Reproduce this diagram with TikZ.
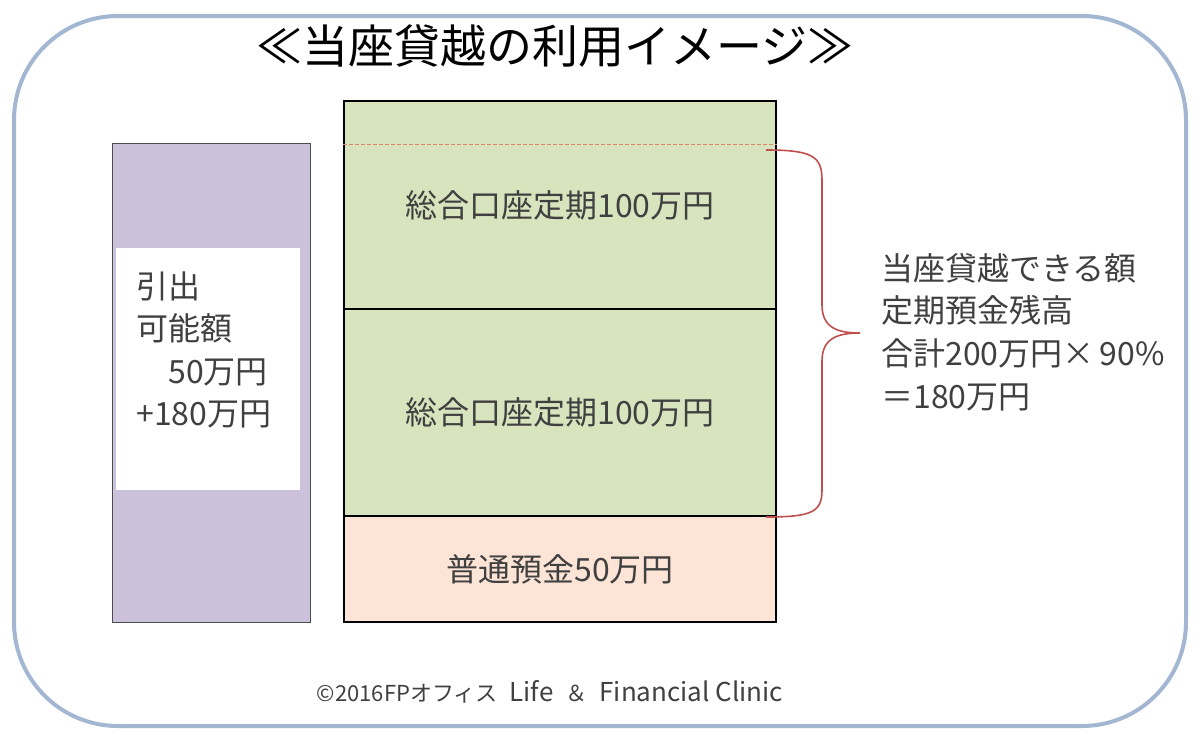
\documentclass[tikz,border=0pt]{standalone}
\usepackage{fontspec}
\setmainfont{Noto Sans CJK JP}
\usetikzlibrary{calc}
\definecolor{frameBlue}{HTML}{A3B7D3}
\definecolor{limitPurple}{HTML}{CCC1DA}
\definecolor{depoGreen}{HTML}{D8E4BD}
\definecolor{depoPink}{HTML}{FCE4D6}
\definecolor{braceRed}{HTML}{C0504D}
\definecolor{cutLine}{HTML}{D9876E}

\begin{document}
\begin{tikzpicture}
[x=0.5pt, y=-0.5pt,
 every node/.style={align=center, inner sep=0pt, text=black!75,
   font=\fontsize{16}{21.3}\selectfont},
 acctBox/.style={draw=black, line width=0.9pt, minimum width=216pt},
 noteText/.style={align=left}
]
\useasboundingbox (0,0) rectangle (1200,741);
\draw[frameBlue, line width=2pt, rounded corners=52pt] (14,16) rectangle (1186,726);
\node (title) at (555,46) {\fontsize{23}{23}\selectfont\color{black}≪当座貸越の利用イメージ≫};
% left column: amount that can be drawn
\node[draw=black!70, line width=0.5pt, fill=limitPurple,
  minimum width=99pt, minimum height=239.5pt] (limit) at (211,382.5) {};
\node[fill=white, minimum width=92pt, minimum height=121pt] (availbox) at (208,369) {};
\node[noteText, anchor=west] (availtext) at (136,350)
  {引出\\可能額\\　50万円\\+180万円};
% deposits
\node[acctBox, fill=depoGreen, minimum height=104pt] (fixedA) at (560,205)
  {\raisebox{-2.5pt}{総合口座定期100万円}};
\node[acctBox, fill=depoGreen, minimum height=103.5pt] (fixedB) at (560,412.5)
  {総合口座定期100万円};
\node[acctBox, fill=depoPink, minimum height=53pt] (savings) at (560,569)
  {普通預金50万円};
\draw[cutLine, dashed, dash pattern=on 2pt off 1pt, line width=0.6pt]
  ($(fixedA.north west)!0.21!(fixedA.south west)$) -- ($(fixedA.north east)!0.21!(fixedA.south east)$);
% brace and note
\coordinate (bracetip) at (860,333);
\draw[braceRed, line width=0.8pt] (766,150) .. controls (812,150) and (822,156) .. (822,180)
  -- (822,305) .. controls (822,328) and (838,333) .. (bracetip)
  .. controls (838,333) and (822,338) .. (822,361)
  -- (822,490) .. controls (822,512) and (812,517) .. (766,517);
\node[noteText, anchor=west] (note) at (881,332)
  {当座貸越できる額\\定期預金残高\\合計200万円×\,90\%\\＝180万円};
\node (credit) at (550,692) {\fontsize{11}{11}\selectfont ©2016FPオフィス\hspace{6pt}%
  {\fontsize{13}{13}\selectfont Life}\hspace{6pt}＆\hspace{6pt}{\fontsize{13}{13}\selectfont Financial Clinic}};
\end{tikzpicture}
\end{document}
